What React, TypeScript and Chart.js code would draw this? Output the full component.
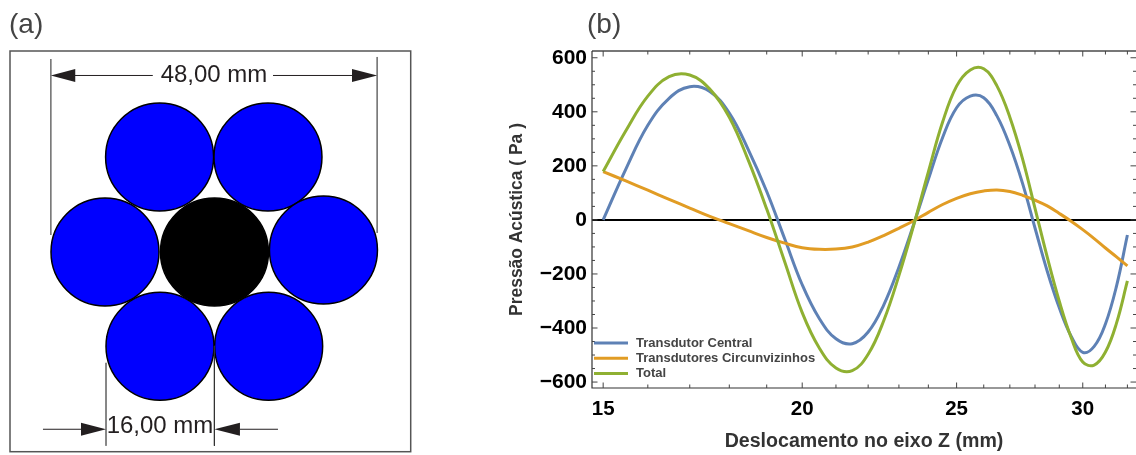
import React, { useEffect, useRef } from "react";
import { Chart, registerables } from "chart.js";

Chart.register(...registerables);

const FONT = '"Liberation Sans", Arial, sans-serif';

// ---------- panel (b) data ----------
const zPositions = [15, 15.5, 16, 16.5, 17, 17.5, 18, 18.5, 19, 19.5, 20, 20.5, 21, 21.5, 22, 22.5, 23, 23.5, 24, 24.5, 25, 25.5, 26, 26.5, 27, 27.5, 28, 28.5, 29, 29.5, 30, 30.5, 31, 31.5, 32];
const centralValues = [0, 188, 350, 450, 493, 475, 395, 260, 105, -70, -240, -365, -440, -458, -415, -315, -175, -15, 150, 305, 415, 458, 452, 385, 275, 135, -30, -190, -325, -430, -490, -468, -385, -245, -56];
const neighbourValues = [179, 144, 110, 76, 44, 13, -14, -40, -65, -86, -103, -109, -108, -100, -82, -58, -31, -3, 28, 57, 80, 97, 107, 111, 105, 91, 73, 52, 24, -5, -36, -69, -104, -137, -170];
const totalValues = [179, 330, 458, 530, 536, 484, 380, 221, 40, -155, -343, -474, -548, -558, -497, -373, -206, -18, 178, 362, 495, 555, 559, 496, 380, 226, 43, -138, -301, -435, -526, -537, -489, -382, -226];
const seriesNames = ["Transdutor Central", "Transdutores Circunvizinhos", "Total"];
const seriesColors = ["#5e81b5", "#e19c24", "#8fb032"];
const xMajorTicks = [15, 20, 25, 30];
const xMinorTicks = [16, 17, 18, 19, 21, 22, 23, 24, 26, 27, 28, 29, 31, 32];
const yMajorTicks = [-600, -400, -200, 0, 200, 400, 600];
const yMinorTicks = [-550, -500, -450, -350, -300, -250, -150, -100, -50, 50, 100, 150, 250, 300, 350, 450, 500, 550];

// ---------- panel (a) data, in mm from the central transducer ----------
const ringX = [-8, 7.94, -16.03, 16.1, -7.94, 8.04];
const ringY = [13.97, 13.97, 0, 0.29, -13.88, -13.88];
const centreX = [0.07];
const centreY = [0];
const extensionLines = [
  [-24, 28.38, -24, 2.5],
  [24, 28.68, 24, 2.8],
  [-15.88, -16.3, -15.88, -28.5],
  [0.06, -13.8, 0.06, -28.5],
];
const dimensionLines = [
  [-20.44, 25.96, -9, 25.96],
  [8.68, 25.96, 20.3, 25.96],
  [-25.15, -26.07, -19.56, -26.07],
  [3.82, -26.07, 9.41, -26.07],
];
const arrowHeads = [
  [-24, -20.4, 25.96],
  [24, 20.3, 25.96],
  [-15.88, -19.56, -26.07],
  [0.06, 3.82, -26.07],
];
const dimensionLabels = ["48,00 mm", "16,00 mm"];
const dimensionLabelX = [0, -7.94];
const dimensionLabelY = [25.96, -25.7];

const schematicPlugin = {
  id: "schematic",
  afterDraw(chart: any) {
    const { ctx, chartArea: a, scales } = chart;
    const { x, y } = scales;
    ctx.save();
    ctx.strokeStyle = "#555555";
    ctx.lineWidth = 1.5;
    ctx.strokeRect(a.left, a.top, a.right - a.left, a.bottom - a.top);
    ctx.fillStyle = "#231f20";
    arrowHeads.forEach(([tip, base, yy]) => {
      const py = y.getPixelForValue(yy);
      ctx.beginPath();
      ctx.moveTo(x.getPixelForValue(tip), py);
      ctx.lineTo(x.getPixelForValue(base), py - 6.5);
      ctx.lineTo(x.getPixelForValue(base), py + 6.5);
      ctx.closePath();
      ctx.fill();
    });
    ctx.font = `24px ${FONT}`;
    ctx.textAlign = "center";
    ctx.textBaseline = "middle";
    dimensionLabels.forEach((t, i) => {
      ctx.fillText(t, x.getPixelForValue(dimensionLabelX[i]), y.getPixelForValue(dimensionLabelY[i]));
    });
    ctx.restore();
  },
};

const framePlugin = {
  id: "frameTicks",
  afterDraw(chart: any) {
    const { ctx, chartArea: a, scales } = chart;
    const { x, y } = scales;
    ctx.save();
    ctx.strokeStyle = "#777777";
    ctx.lineWidth = 2;
    ctx.beginPath();
    ctx.moveTo(a.left, a.top);
    ctx.lineTo(a.right, a.top);
    ctx.stroke();
    ctx.strokeStyle = "#333333";
    ctx.lineWidth = 1.2;
    ctx.beginPath();
    ctx.moveTo(a.left, a.top);
    ctx.lineTo(a.left, a.bottom);
    ctx.lineTo(a.right, a.bottom);
    ctx.stroke();
    const vTick = (v: number, len: number) => {
      const p = x.getPixelForValue(v);
      ctx.beginPath();
      ctx.moveTo(p, a.bottom);
      ctx.lineTo(p, a.bottom - len);
      ctx.moveTo(p, a.top);
      ctx.lineTo(p, a.top + len);
      ctx.stroke();
    };
    const hTick = (v: number, len: number) => {
      const p = y.getPixelForValue(v);
      ctx.beginPath();
      ctx.moveTo(a.left, p);
      ctx.lineTo(a.left + len, p);
      ctx.moveTo(a.right, p);
      ctx.lineTo(a.right - len, p);
      ctx.stroke();
    };
    ctx.strokeStyle = "#444444";
    ctx.lineWidth = 1;
    xMajorTicks.forEach((v) => vTick(v, 5.5));
    xMinorTicks.forEach((v) => vTick(v, 3.5));
    yMajorTicks.forEach((v) => hTick(v, 5.5));
    yMinorTicks.forEach((v) => hTick(v, 3));

    // legend, in the lower left corner of the plot
    ctx.font = `bold 13px ${FONT}`;
    ctx.textAlign = "left";
    ctx.textBaseline = "middle";
    seriesNames.forEach((name, i) => {
      const rowY = a.bottom - 45 + i * 15.2;
      ctx.strokeStyle = seriesColors[i];
      ctx.lineWidth = 3;
      ctx.beginPath();
      ctx.moveTo(a.left + 2, rowY);
      ctx.lineTo(a.left + 36, rowY);
      ctx.stroke();
      ctx.fillStyle = "#444444";
      ctx.fillText(name, a.left + 44, rowY);
    });
    ctx.restore();
  },
};

export default function App() {
  const leftRef = useRef<HTMLCanvasElement>(null);
  const rightRef = useRef<HTMLCanvasElement>(null);

  useEffect(() => {
    const lineSet = (seg: number[], color: string, width: number) => ({
      data: [
        { x: seg[0], y: seg[1] },
        { x: seg[2], y: seg[3] },
      ],
      showLine: true,
      pointRadius: 0,
      borderColor: color,
      borderWidth: width,
    });
    const left = new Chart(leftRef.current!, {
      type: "scatter",
      data: {
        datasets: [
          ...extensionLines.map((s, i) => lineSet(s, i === 3 ? "#333333" : "#777777", 1)),
          ...dimensionLines.map((s) => lineSet(s, "#231f20", 1)),
          {
            data: centreX.map((v, i) => ({ x: v, y: centreY[i] })),
            pointRadius: 54,
            backgroundColor: "#000000",
            borderColor: "#000000",
            borderWidth: 1.5,
          },
          {
            data: ringX.map((v, i) => ({ x: v, y: ringY[i] })),
            pointRadius: 54,
            backgroundColor: "#0000ff",
            borderColor: "#000000",
            borderWidth: 1.5,
          },
        ] as any,
      },
      options: {
        animation: false,
        responsive: false,
        events: [],
        layout: { autoPadding: false, padding: { left: 10, right: 9.3, top: 51, bottom: 3.3 } },
        plugins: { legend: { display: false }, tooltip: { enabled: false } },
        scales: {
          x: { type: "linear", display: false, min: -30, max: 28.93 },
          y: { type: "linear", display: false, min: -29.37, max: 29.56 },
        },
      },
      plugins: [schematicPlugin],
    });

    const series = [centralValues, neighbourValues, totalValues];
    const right = new Chart(rightRef.current!, {
      type: "scatter",
      data: {
        datasets: series.map((vals, i) => ({
          label: seriesNames[i],
          data: vals.map((v, j) => ({ x: zPositions[j], y: v })),
          showLine: true,
          pointRadius: 0,
          borderColor: seriesColors[i],
          backgroundColor: seriesColors[i],
          borderWidth: 3,
          tension: 0.4,
          order: 3 - i,
        })),
      },
      options: {
        animation: false,
        responsive: false,
        events: [],
        layout: { autoPadding: false, padding: { left: 0, right: 0, top: 51, bottom: 0 } },
        plugins: {
          tooltip: { enabled: false },
          legend: { display: false },
        },
        scales: {
          x: {
            type: "logarithmic",
            min: 14.76,
            max: 32.4,
            grid: { display: false },
            border: { display: false },
            afterBuildTicks: (s: any) => {
              s.ticks = xMajorTicks.map((value) => ({ value }));
            },
            afterFit: (s: any) => {
              s.height = 67;
            },
            ticks: {
              autoSkip: false,
              maxRotation: 0,
              padding: 1,
              color: "#000000",
              font: { family: FONT, size: 20.5, weight: "bold" },
              callback: (v: any) => String(v),
            },
            title: {
              display: true,
              text: "Deslocamento no eixo Z (mm)",
              color: "#333333",
              font: { family: FONT, size: 19.6, weight: "bold" },
              padding: { top: 0, bottom: 1.5 },
            },
          },
          y: {
            type: "linear",
            min: -622,
            max: 625,
            border: { display: false },
            grid: {
              drawTicks: false,
              color: (c: any) => (c.tick && c.tick.value === 0 ? "#000000" : "transparent"),
              lineWidth: 2,
            },
            afterBuildTicks: (s: any) => {
              s.ticks = yMajorTicks.map((value) => ({ value }));
            },
            afterFit: (s: any) => {
              s.width = 102;
            },
            ticks: {
              padding: 5,
              color: "#000000",
              font: { family: FONT, size: 21, weight: "bold" },
              callback: (v: any) => String(v).replace("-", "\u2212"),
            },
            title: {
              display: true,
              text: "Pressão Acústica ( Pa )",
              color: "#333333",
              font: { family: FONT, size: 17.45, weight: "bold" },
              padding: { top: 17, bottom: 0 },
            },
          },
        },
      },
      plugins: [framePlugin],
    });

    return () => {
      left.destroy();
      right.destroy();
    };
  }, []);

  const panelLabel: React.CSSProperties = {
    position: "absolute",
    top: 6,
    font: `28px ${FONT}`,
    color: "#444444",
    lineHeight: "36px",
  };

  return (
    <div style={{ position: "fixed", left: 0, top: 0, width: 1136, height: 455, background: "#ffffff", overflow: "hidden" }}>
      <canvas ref={leftRef} width={420} height={455} style={{ position: "absolute", left: 0, top: 0 }} />
      <canvas ref={rightRef} width={646} height={455} style={{ position: "absolute", left: 490, top: 0 }} />
      <div style={{ ...panelLabel, left: 9 }}>(a)</div>
      <div style={{ ...panelLabel, left: 587 }}>(b)</div>
    </div>
  );
}
